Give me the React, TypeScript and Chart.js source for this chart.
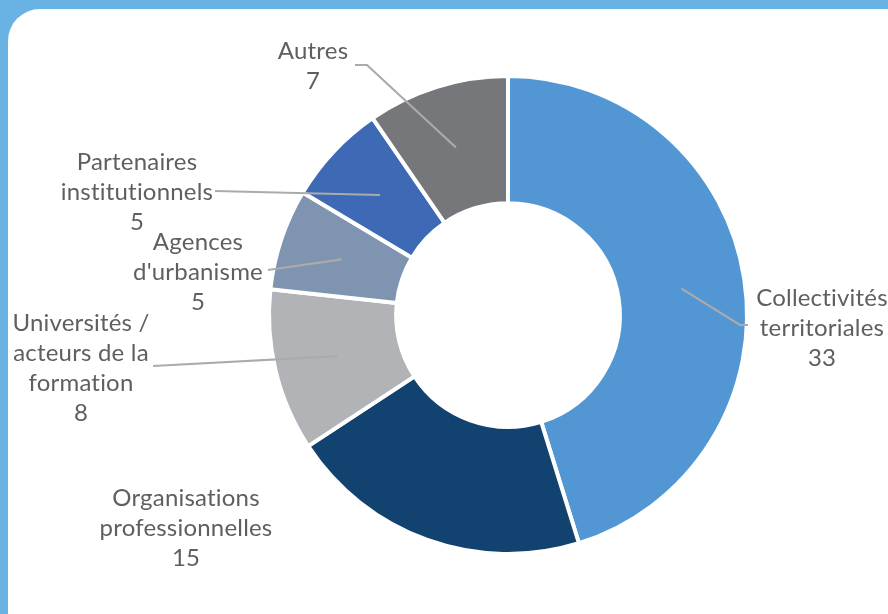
import React, { useEffect, useRef } from "react";
import { Chart, registerables } from "chart.js";

Chart.register(...registerables);

const categories = [
  "Collectivités territoriales",
  "Organisations professionnelles",
  "Universités / acteurs de la formation",
  "Agences d'urbanisme",
  "Partenaires institutionnels",
  "Autres",
];
const labelLines = [
  ["Collectivités", "territoriales"],
  ["Organisations", "professionnelles"],
  ["Universités /", "acteurs de la", "formation"],
  ["Agences", "d'urbanisme"],
  ["Partenaires", "institutionnels"],
  ["Autres"],
];
const values = [33, 15, 8, 5, 5, 7];
const colors = ["#5297d3", "#124370", "#b1b3b6", "#7f94b0", "#3e6ab5", "#76777b"];

// label placement relative to the doughnut centre (text centre of first line, leader path)
const labelLayout = [
  { tx: 314, ty: -17, path: [[232, 10], [240, 10]] },
  { tx: -322, ty: 183, path: [] },
  { tx: -427, ty: 8, path: [[-355, 51]] },
  { tx: -310, ty: -73, path: [[-240, -45]] },
  { tx: -371, ty: -153, path: [[-293, -124]] },
  { tx: -195, ty: -264, path: [[-141, -250], [-153, -250]] },
];

const FONT = "24px Lato";
const LINE_H = 30;

const labelPlugin = {
  id: "leaderLabels",
  afterDatasetsDraw(chart: any) {
    const ctx = chart.ctx;
    const meta = chart.getDatasetMeta(0);
    ctx.save();
    meta.data.forEach((arc: any, i: number) => {
      const p = arc.getProps(["x", "y", "startAngle", "endAngle", "innerRadius", "outerRadius"], true);
      const cx = p.x, cy = p.y;
      const mid = (p.startAngle + p.endAngle) / 2;
      const r = (p.innerRadius + p.outerRadius) / 2;
      const lay = labelLayout[i];
      if (lay.path.length) {
        ctx.beginPath();
        ctx.strokeStyle = "#ababab";
        ctx.lineWidth = 2.2;
        ctx.moveTo(cx + Math.cos(mid) * r, cy + Math.sin(mid) * r);
        lay.path.forEach((pt) => ctx.lineTo(cx + pt[0], cy + pt[1]));
        ctx.stroke();
      }
      ctx.fillStyle = "#5f5f5f";
      ctx.font = FONT;
      try { (ctx as any).letterSpacing = "0.2px"; } catch (e) {}
      ctx.textAlign = "center";
      ctx.textBaseline = "middle";
      const lines = [...labelLines[i], String(chart.data.datasets[0].data[i])];
      lines.forEach((t, k) => {
        ctx.fillText(t, cx + lay.tx, cy + lay.ty + k * LINE_H);
      });
    });
    ctx.restore();
  },
};

export default function App() {
  const ref = useRef<HTMLCanvasElement>(null);
  useEffect(() => {
    document.body.style.margin = "0";
    const chart = new Chart(ref.current!, {
      type: "doughnut",
      data: {
        labels: categories,
        datasets: [
          {
            data: values,
            backgroundColor: colors,
            borderColor: "#ffffff",
            borderWidth: 4,
            hoverOffset: 0,
          },
        ],
      },
      options: {
        responsive: false,
        animation: false,
        radius: 239,
        cutout: 110,
        layout: { padding: { left: 271, right: 143, top: 78, bottom: 62 } },
        plugins: { legend: { display: false }, tooltip: { enabled: false } },
      } as any,
      plugins: [labelPlugin],
    });
    return () => chart.destroy();
  }, []);
  return (
    <div style={{ position: "relative", width: 888, height: 614, overflow: "hidden", background: "#68b3e3" }}>
      <div
        style={{
          position: "absolute",
          left: 8,
          top: 9,
          width: 940,
          height: 700,
          background: "#ffffff",
          borderRadius: 32,
        }}
      />
      <canvas ref={ref} width={888} height={614} style={{ position: "absolute", left: 0, top: 0 }} />
    </div>
  );
}
